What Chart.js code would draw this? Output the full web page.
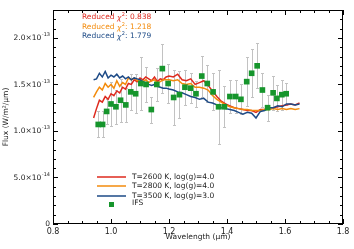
<!DOCTYPE html>
<html>
<head>
<meta charset="utf-8">
<script src="https://cdn.jsdelivr.net/npm/chart.js@4"></script>
<style>
html, body { margin: 0; padding: 0; background: #fff; }
</style>
</head>
<body>
<canvas id="fluxChart" width="354" height="249"></canvas>
<script>
// model spectra: wavelength in micron, flux in units of 1e-13 W/m^2/um
const modelWave = [0.940,0.950,0.960,0.970,0.980,0.990,1.000,1.010,1.020,1.030,1.040,1.050,1.060,1.070,1.080,1.090,1.100,1.110,1.120,1.130,1.140,1.150,1.160,1.170,1.180,1.190,1.200,
    1.215,1.230,1.245,1.260,1.275,1.290,1.305,1.320,1.335,1.350,1.365,1.380,1.395,1.410,1.425,1.440,1.455,1.470,1.485,1.500,1.515,1.530,1.545,1.560,1.575,1.590,1.605,1.620,1.635,1.650];
const flux2600 = [1.14,1.24,1.33,1.31,1.37,1.34,1.40,1.38,1.43,1.41,1.47,1.45,1.51,1.50,1.55,1.53,1.57,1.55,1.58,1.56,1.54,1.58,1.53,1.56,1.55,1.58,1.59,
    1.58,1.61,1.55,1.54,1.56,1.50,1.52,1.54,1.49,1.43,1.37,1.32,1.29,1.27,1.25,1.24,1.23,1.22,1.22,1.20,1.23,1.23,1.25,1.25,1.26,1.27,1.28,1.29,1.28,1.30];
const flux2800 = [1.36,1.42,1.47,1.44,1.51,1.47,1.50,1.46,1.54,1.48,1.52,1.50,1.57,1.55,1.57,1.54,1.55,1.53,1.55,1.52,1.54,1.55,1.52,1.53,1.55,1.55,1.55,
    1.54,1.55,1.51,1.50,1.51,1.47,1.47,1.46,1.44,1.38,1.34,1.31,1.28,1.26,1.25,1.24,1.23,1.23,1.22,1.22,1.22,1.23,1.23,1.24,1.23,1.24,1.23,1.24,1.23,1.24];
const flux3500 = [1.55,1.56,1.62,1.58,1.64,1.57,1.60,1.58,1.61,1.57,1.59,1.56,1.58,1.55,1.57,1.56,1.55,1.53,1.52,1.50,1.49,1.50,1.48,1.47,1.46,1.46,1.45,
    1.44,1.42,1.41,1.39,1.37,1.36,1.34,1.35,1.31,1.30,1.28,1.25,1.24,1.23,1.22,1.20,1.18,1.20,1.19,1.14,1.21,1.22,1.25,1.25,1.27,1.26,1.29,1.29,1.28,1.29];

// IFS measurements
const ifsWave = [0.956,0.971,0.985,1.000,1.017,1.033,1.051,1.068,1.085,1.103,1.121,1.139,1.158,1.177,1.197,1.216,1.236,1.255,1.275,1.293,
    1.313,1.332,1.352,1.371,1.391,1.410,1.430,1.448,1.468,1.485,1.504,1.522,1.540,1.559,1.572,1.589,1.604];
const ifsFlux = [1.07,1.07,1.21,1.29,1.26,1.33,1.28,1.42,1.40,1.51,1.50,1.23,1.50,1.67,1.51,1.36,1.39,1.47,1.46,1.40,
    1.59,1.51,1.42,1.26,1.26,1.37,1.37,1.34,1.53,1.62,1.70,1.44,1.25,1.41,1.35,1.39,1.40];
const ifsErr = [0.14,0.14,0.13,0.24,0.18,0.23,0.18,0.19,0.21,0.28,0.19,0.14,0.18,0.26,0.21,0.30,0.25,0.19,0.16,0.14,
    0.22,0.20,0.20,0.40,0.22,0.18,0.18,0.16,0.26,0.26,0.24,0.18,0.14,0.18,0.14,0.16,0.12];

const modelLabels = ['T=2600 K, log(g)=4.0', 'T=2800 K, log(g)=4.0', 'T=3500 K, log(g)=3.0'];
const chiValues = ['0.838', '1.218', '1.779'];
const xTicks = [0.8, 1.0, 1.2, 1.4, 1.6, 1.8];
const yTicks = [0, 0.5, 1.0, 1.5, 2.0];
const yTickMantissa = ['0', '5.0×10', '1.0×10', '1.5×10', '2.0×10'];
const yTickExponent = ['', '-14', '-13', '-13', '-13'];

const RED = '#de2a1e', ORANGE = '#f38b0c', BLUE = '#1d4a86', GREEN = '#16952c';
const modelColors = [RED, ORANGE, BLUE];
const FONT = 'DejaVu Sans';

function toPoints(xs, ys) {
    return xs.map((x, i) => ({ x: x, y: ys[i] }));
}

// grey error bars under the IFS points
const errorBars = {
    id: 'errorBars',
    beforeDatasetsDraw(chart) {
        const ctx = chart.ctx, xs = chart.scales.x, ys = chart.scales.y;
        ctx.save();
        ctx.strokeStyle = '#c2c2c2';
        ctx.lineWidth = 1;
        ctx.beginPath();
        ifsWave.forEach((w, i) => {
            const px = Math.round(xs.getPixelForValue(w)) + 0.5;
            const top = Math.round(ys.getPixelForValue(ifsFlux[i] + ifsErr[i])) + 0.5;
            const bot = Math.round(ys.getPixelForValue(ifsFlux[i] - ifsErr[i])) + 0.5;
            ctx.moveTo(px, top); ctx.lineTo(px, bot);
            ctx.moveTo(px - 1.5, top); ctx.lineTo(px + 1.5, top);
            ctx.moveTo(px - 1.5, bot); ctx.lineTo(px + 1.5, bot);
        });
        ctx.stroke();
        ctx.restore();
    }
};

// box, inward ticks on all sides, y labels with exponents, legend, chi^2 notes
const decorations = {
    id: 'decorations',
    afterDraw(chart) {
        const ctx = chart.ctx, a = chart.chartArea, xs = chart.scales.x, ys = chart.scales.y;
        ctx.save();
        ctx.strokeStyle = '#000';
        ctx.lineWidth = 1;
        ctx.strokeRect(a.left + 0.5, a.top + 0.5, a.right - a.left - 1, a.bottom - a.top - 1);

        ctx.beginPath();
        for (let k = 0; k <= 20; k++) {
            const px = Math.round(xs.getPixelForValue(0.8 + k * 0.05)) + 0.5;
            const len = k % 4 === 0 ? 5 : 3;
            ctx.moveTo(px, a.bottom); ctx.lineTo(px, a.bottom - len);
            ctx.moveTo(px, a.top); ctx.lineTo(px, a.top + len);
        }
        for (let k = 0; k <= 23; k++) {
            const py = Math.round(ys.getPixelForValue(k * 0.1)) + 0.5;
            const len = k % 5 === 0 ? 5 : 3;
            ctx.moveTo(a.left, py); ctx.lineTo(a.left + len, py);
            ctx.moveTo(a.right, py); ctx.lineTo(a.right - len, py);
        }
        ctx.stroke();

        // y tick labels
        ctx.fillStyle = '#222';
        ctx.textBaseline = 'middle';
        ctx.textAlign = 'right';
        yTicks.forEach((v, i) => {
            const py = ys.getPixelForValue(v);
            let right = a.left - 3;
            if (yTickExponent[i]) {
                ctx.font = '5px ' + FONT;
                ctx.fillText(yTickExponent[i], right, py - 3);
                right -= ctx.measureText(yTickExponent[i]).width + 0.5;
            }
            ctx.font = '7.5px ' + FONT;
            ctx.fillText(yTickMantissa[i], right, py + 0.5);
        });

        // legend
        ctx.textAlign = 'left';
        ctx.font = '7.5px ' + FONT;
        const lx = a.left + 44, rowY = [a.bottom - 47, a.bottom - 38, a.bottom - 28];
        modelLabels.forEach((lab, i) => {
            ctx.strokeStyle = modelColors[i];
            ctx.lineWidth = 1.5;
            ctx.beginPath();
            ctx.moveTo(lx, rowY[i]); ctx.lineTo(lx + 29, rowY[i]);
            ctx.stroke();
            ctx.fillStyle = '#222';
            ctx.fillText(lab, lx + 35, rowY[i]);
        });
        ctx.fillStyle = GREEN;
        ctx.fillRect(lx + 12, a.bottom - 22, 5, 5);
        ctx.fillStyle = '#222';
        ctx.fillText('IFS', lx + 35, a.bottom - 21);

        // reduced chi^2 notes
        const cx = a.left + 29, chiY = [a.top + 7, a.top + 17, a.top + 26];
        chiValues.forEach((val, i) => {
            let x = cx;
            ctx.fillStyle = modelColors[i];
            ctx.font = '7.5px ' + FONT;
            ctx.fillText('Reduced ', x, chiY[i]);
            x += ctx.measureText('Reduced ').width;
            ctx.font = 'italic 7.5px ' + FONT;
            ctx.fillText('χ', x, chiY[i] + 1);
            x += ctx.measureText('χ').width + 0.5;
            ctx.font = '5px ' + FONT;
            ctx.fillText('2', x, chiY[i] - 2.5);
            x += ctx.measureText('2').width;
            ctx.font = '7.5px ' + FONT;
            ctx.fillText(': ' + val, x, chiY[i]);
        });
        ctx.restore();
    }
};

const lineSet = (label, ys, color, order) => ({
    label: label,
    data: toPoints(modelWave, ys),
    borderColor: color,
    borderWidth: 1.5,
    pointRadius: 0,
    fill: false,
    tension: 0,
    order: order
});

new Chart(document.getElementById('fluxChart').getContext('2d'), {
    type: 'line',
    data: {
        datasets: [
            {
                label: 'IFS',
                data: toPoints(ifsWave, ifsFlux),
                showLine: false,
                pointStyle: 'rect',
                pointRadius: 4,
                pointBorderWidth: 0,
                pointBackgroundColor: GREEN,
                pointBorderColor: GREEN,
                order: 0
            },
            lineSet(modelLabels[2], flux3500, BLUE, 1),
            lineSet(modelLabels[1], flux2800, ORANGE, 2),
            lineSet(modelLabels[0], flux2600, RED, 3)
        ]
    },
    options: {
        responsive: false,
        animation: false,
        events: [],
        layout: { padding: { top: 10, right: 11, left: 0, bottom: 0 } },
        plugins: { legend: { display: false }, tooltip: { enabled: false } },
        scales: {
            x: {
                type: 'linear',
                min: 0.8,
                max: 1.8,
                grid: { display: false, drawTicks: false },
                border: { display: false },
                afterBuildTicks: s => { s.ticks = xTicks.map(v => ({ value: v })); },
                afterFit: s => { s.height = 25; },
                ticks: {
                    callback: v => v.toFixed(1),
                    font: { family: FONT, size: 8 },
                    color: '#222',
                    padding: 3,
                    maxRotation: 0,
                    autoSkip: false
                },
                title: {
                    display: true,
                    text: 'Wavelength (μm)',
                    font: { family: FONT, size: 7.5 },
                    color: '#222',
                    padding: { top: 0, bottom: 7 }
                }
            },
            y: {
                type: 'linear',
                min: 0,
                max: 2.3,
                grid: { display: false, drawTicks: false },
                border: { display: false },
                afterBuildTicks: s => { s.ticks = yTicks.map(v => ({ value: v })); },
                afterFit: s => { s.width = 53; },
                ticks: { display: false },
                title: {
                    display: true,
                    text: 'Flux (W/m²/μm)',
                    font: { family: FONT, size: 7.5 },
                    color: '#222',
                    padding: { top: 2, bottom: 0 }
                }
            }
        }
    },
    plugins: [errorBars, decorations]
});
</script>
</body>
</html>
